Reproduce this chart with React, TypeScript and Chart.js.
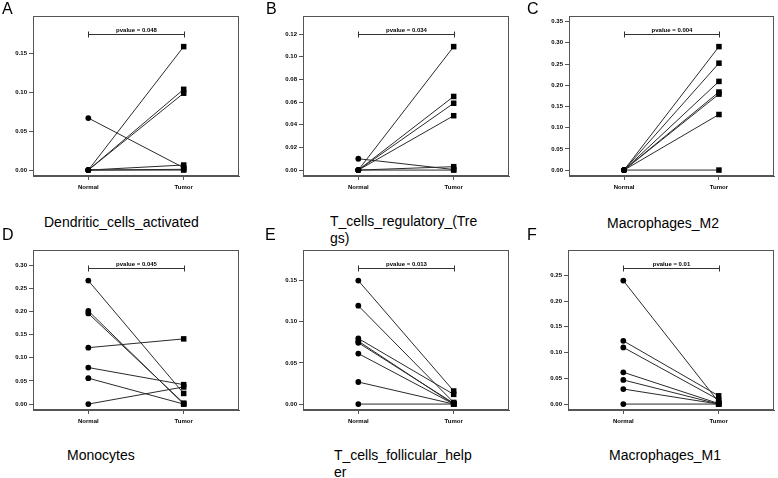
import React, { useEffect, useRef } from 'react';
import { Chart, registerables } from 'chart.js';

Chart.register(...registerables);
Chart.defaults.font.family = "'Liberation Sans', Arial, sans-serif";

const groups = ['Normal', 'Tumor'];

// Panel A: Dendritic_cells_activated
const dcNormal = [0, 0, 0, 0, 0.067, 0, 0];
const dcTumor = [0.159, 0.104, 0.099, 0.0065, 0.003, 0, 0.001];
const dcTicks = [0, 0.05, 0.1, 0.15];

// Panel B: T_cells_regulatory_(Tregs)
const tregNormal = [0, 0, 0, 0, 0, 0.01, 0];
const tregTumor = [0.109, 0.065, 0.059, 0.048, 0.003, 0.0005, 0];
const tregTicks = [0, 0.02, 0.04, 0.06, 0.08, 0.1, 0.12];

// Panel C: Macrophages_M2
const m2Normal = [0, 0, 0, 0, 0, 0, 0];
const m2Tumor = [0.291, 0.252, 0.209, 0.184, 0.179, 0.131, 0];
const m2Ticks = [0, 0.05, 0.1, 0.15, 0.2, 0.25, 0.3, 0.35];

// Panel D: Monocytes
const monoNormal = [0.267, 0.2015, 0.196, 0.122, 0.079, 0.056, 0];
const monoTumor = [0.023, 0, 0.002, 0.141, 0.042, 0, 0.037];
const monoTicks = [0, 0.05, 0.1, 0.15, 0.2, 0.25, 0.3];

// Panel E: T_cells_follicular_helper
const tfhNormal = [0.15, 0.1195, 0.0797, 0.0764, 0.0745, 0.0614, 0.0268, 0];
const tfhTumor = [0.0159, 0.002, 0.0118, 0, 0.001, 0, 0, 0];
const tfhTicks = [0, 0.05, 0.1, 0.15];

// Panel F: Macrophages_M1
const m1Normal = [0.2396, 0.1227, 0.11, 0.0617, 0.0468, 0.0292, 0];
const m1Tumor = [0.004, 0.016, 0.0084, 0.001, 0, 0, 0];
const m1Ticks = [0, 0.05, 0.1, 0.15, 0.2, 0.25];

const pvalues = ['0.048', '0.034', '0.004', '0.045', '0.013', '0.01'];
const letters = ['A', 'B', 'C', 'D', 'E', 'F'];
const titles = [
  ['Dendritic_cells_activated'],
  ['T_cells_regulatory_(Tre', 'gs)'],
  ['Macrophages_M2'],
  ['Monocytes'],
  ['T_cells_follicular_help', 'er'],
  ['Macrophages_M1'],
];

type PanelDef = {
  normal: number[];
  tumor: number[];
  ticks: number[];
  pvalue: string;
  letter: string;
  title: string[];
  box: { left: number; top: number; w: number; h: number };
  titlePos: { left: number; baseline: number };
  letterPos: { left: number; baseline: number };
};

const panels: PanelDef[] = [
  { normal: dcNormal, tumor: dcTumor, ticks: dcTicks, pvalue: pvalues[0], letter: letters[0], title: titles[0],
    box: { left: 33, top: 16, w: 209, h: 160 }, titlePos: { left: 44, baseline: 227.5 }, letterPos: { left: 2, baseline: 14.5 } },
  { normal: tregNormal, tumor: tregTumor, ticks: tregTicks, pvalue: pvalues[1], letter: letters[1], title: titles[1],
    box: { left: 303, top: 16, w: 209, h: 160 }, titlePos: { left: 330, baseline: 226 }, letterPos: { left: 266, baseline: 14.5 } },
  { normal: m2Normal, tumor: m2Tumor, ticks: m2Ticks, pvalue: pvalues[2], letter: letters[2], title: titles[2],
    box: { left: 569, top: 16, w: 208, h: 160 }, titlePos: { left: 607, baseline: 228 }, letterPos: { left: 527, baseline: 14.5 } },
  { normal: monoNormal, tumor: monoTumor, ticks: monoTicks, pvalue: pvalues[3], letter: letters[3], title: titles[3],
    box: { left: 33, top: 250, w: 209, h: 160 }, titlePos: { left: 67, baseline: 460 }, letterPos: { left: 2, baseline: 240.7 } },
  { normal: tfhNormal, tumor: tfhTumor, ticks: tfhTicks, pvalue: pvalues[4], letter: letters[4], title: titles[4],
    box: { left: 303, top: 250, w: 209, h: 160 }, titlePos: { left: 334, baseline: 460.5 }, letterPos: { left: 265, baseline: 240.7 } },
  { normal: m1Normal, tumor: m1Tumor, ticks: m1Ticks, pvalue: pvalues[5], letter: letters[5], title: titles[5],
    box: { left: 568, top: 250, w: 209, h: 160 }, titlePos: { left: 609, baseline: 460 }, letterPos: { left: 527, baseline: 240.7 } },
];

const AXIS_W = 33;
const TOP_PAD = 6;
const RIGHT_PAD = 1;
const XAXIS_H = 24;

function Panel({ p }: { p: PanelDef }) {
  const ref = useRef<HTMLCanvasElement>(null);
  const cw = AXIS_W + p.box.w + RIGHT_PAD;
  const ch = TOP_PAD + p.box.h + XAXIS_H;

  useEffect(() => {
    const all = [...p.normal, ...p.tumor];
    const peak = Math.max(...all);
    const hi = peak * 1.2;
    const pad = hi * 0.04;
    const bracketY = peak * 1.1;

    const datasets: any[] = [];
    p.normal.forEach((n, i) => {
      datasets.push({
        data: [{ x: 1, y: n }, { x: 2, y: p.tumor[i] }],
        showLine: true,
        borderColor: '#2a2a2a',
        borderWidth: 1,
        pointRadius: 0,
        order: 2,
      });
    });
    datasets.push({
      data: p.normal.map((v) => ({ x: 1, y: v })),
      pointStyle: 'circle',
      pointRadius: 2.9,
      backgroundColor: '#000',
      borderColor: '#000',
      borderWidth: 0,
      order: 0,
    });
    datasets.push({
      data: p.tumor.map((v) => ({ x: 2, y: v })),
      pointStyle: 'rect',
      pointRadius: 3.9,
      backgroundColor: '#000',
      borderColor: '#000',
      borderWidth: 0,
      order: 0,
    });

    const framePlugin = {
      id: 'frameAndBracket',
      beforeDatasetsDraw(chart: any) {
        const { ctx, chartArea: a, scales } = chart;
        const xs = scales.x;
        const ys = scales.y;
        ctx.save();
        ctx.strokeStyle = '#555';
        ctx.lineWidth = 1;
        ctx.strokeRect(Math.round(a.left) + 0.5, Math.round(a.top) + 0.5,
          Math.round(a.right - a.left) - 1, Math.round(a.bottom - a.top) - 1);
        const x1 = Math.round(xs.getPixelForValue(1)) + 0.5;
        const x2 = Math.round(xs.getPixelForValue(2)) + 0.5;
        const by = Math.round(ys.getPixelForValue(bracketY)) + 0.5;
        ctx.strokeStyle = '#333';
        ctx.beginPath();
        ctx.moveTo(x1, by);
        ctx.lineTo(x2, by);
        ctx.moveTo(x1, by - 3);
        ctx.lineTo(x1, by + 3);
        ctx.moveTo(x2, by - 3);
        ctx.lineTo(x2, by + 3);
        ctx.stroke();
        ctx.fillStyle = '#000';
        ctx.font = "bold 6px 'Liberation Sans', Arial, sans-serif";
        ctx.textAlign = 'center';
        ctx.textBaseline = 'middle';
        ctx.fillText('pvalue = ' + p.pvalue, (x1 + x2) / 2, by - 4.5);
        ctx.restore();
      },
    };

    const chart = new Chart(ref.current as HTMLCanvasElement, {
      type: 'scatter',
      data: { datasets },
      options: {
        responsive: false,
        animation: false,
        devicePixelRatio: 1,
        layout: { padding: { top: TOP_PAD, right: RIGHT_PAD, left: 0, bottom: 0 } },
        plugins: { legend: { display: false }, tooltip: { enabled: false } },
        scales: {
          x: {
            type: 'linear',
            min: 0.42,
            max: 2.58,
            afterBuildTicks: (s: any) => { s.ticks = [{ value: 1 }, { value: 2 }]; },
            afterFit: (s: any) => { s.height = XAXIS_H; },
            ticks: {
              callback: (v: any) => groups[Math.round(Number(v)) - 1] ?? '',
              font: { size: 6, weight: 'bold' },
              color: '#000',
              padding: 4,
              maxRotation: 0,
              autoSkip: false,
            },
            grid: { drawOnChartArea: false, tickLength: 4, color: '#555' },
            border: { color: '#555' },
          },
          y: {
            type: 'linear',
            min: -pad,
            max: hi + pad,
            afterBuildTicks: (s: any) => { s.ticks = p.ticks.map((v) => ({ value: v })); },
            afterFit: (s: any) => { s.width = AXIS_W; },
            ticks: {
              callback: (v: any) => Number(v).toFixed(2),
              font: { size: 6, weight: 'bold' },
              color: '#000',
              padding: 2,
              autoSkip: false,
            },
            grid: { drawOnChartArea: false, tickLength: 4, color: '#555' },
            border: { color: '#555' },
          },
        },
      } as any,
      plugins: [framePlugin],
    });
    return () => chart.destroy();
  }, []);

  return (
    <canvas
      ref={ref}
      width={cw}
      height={ch}
      style={{
        position: 'absolute',
        left: p.box.left - AXIS_W,
        top: p.box.top - TOP_PAD,
        width: cw,
        height: ch,
      }}
    />
  );
}

export default function App() {
  const font = "'Liberation Sans', Arial, sans-serif";
  return (
    <div
      style={{
        position: 'fixed',
        left: 0,
        top: 0,
        width: 778,
        height: 478,
        background: '#fff',
        overflow: 'hidden',
        fontFamily: font,
        color: '#000',
      }}
    >
      {panels.map((p, i) => (
        <React.Fragment key={i}>
          <Panel p={p} />
          <div
            style={{
              position: 'absolute',
              left: p.letterPos.left,
              top: p.letterPos.baseline - 13.3,
              fontSize: 16,
              lineHeight: '16px',
              whiteSpace: 'nowrap',
            }}
          >
            {p.letter}
          </div>
          {p.title.map((line, j) => (
            <div
              key={j}
              style={{
                position: 'absolute',
                left: p.titlePos.left,
                top: p.titlePos.baseline - 13.1 + j * 17,
                fontSize: 14,
                lineHeight: '17px',
                whiteSpace: 'nowrap',
              }}
            >
              {line}
            </div>
          ))}
        </React.Fragment>
      ))}
    </div>
  );
}
